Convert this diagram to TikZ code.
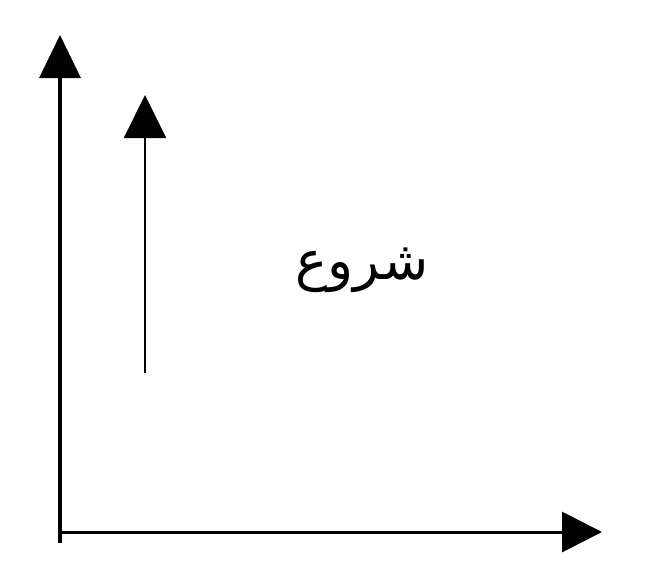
\documentclass[tikz,border=0pt]{standalone}
\usepackage{fontspec}
\usetikzlibrary{arrows.meta}
\TeXXeTstate=1
\newfontfamily\arabicfont[Script=Arabic]{DejaVu Sans}
\tikzset{
  axis/.style={line width=3.5pt, -{Triangle[width=41pt,length=43pt]}},
  thinarrow/.style={line width=2pt, -{Triangle[width=42pt,length=43pt]}},
  lbl/.style={font=\arabicfont\fontsize{54}{60}\selectfont, inner sep=0pt}
}
\begin{document}
\begin{tikzpicture}[x=1pt,y=-1pt]
\useasboundingbox (0,0) rectangle (650,586);
\coordinate (o) at (60,543);
\coordinate (ytop) at (60,35);
\coordinate (hstart) at (58,532);
\coordinate (xend) at (602,532);
\coordinate (sb) at (145,373);
\coordinate (st) at (145,95);
\draw[axis] (o) -- (ytop);
\draw[axis, line width=3pt, -{Triangle[width=40pt,length=40pt]}] (hstart) -- (xend);
\draw[thinarrow] (sb) -- (st);
\node[lbl] (label) at (362,270) {\beginR شروع\endR};
\end{tikzpicture}
\end{document}
